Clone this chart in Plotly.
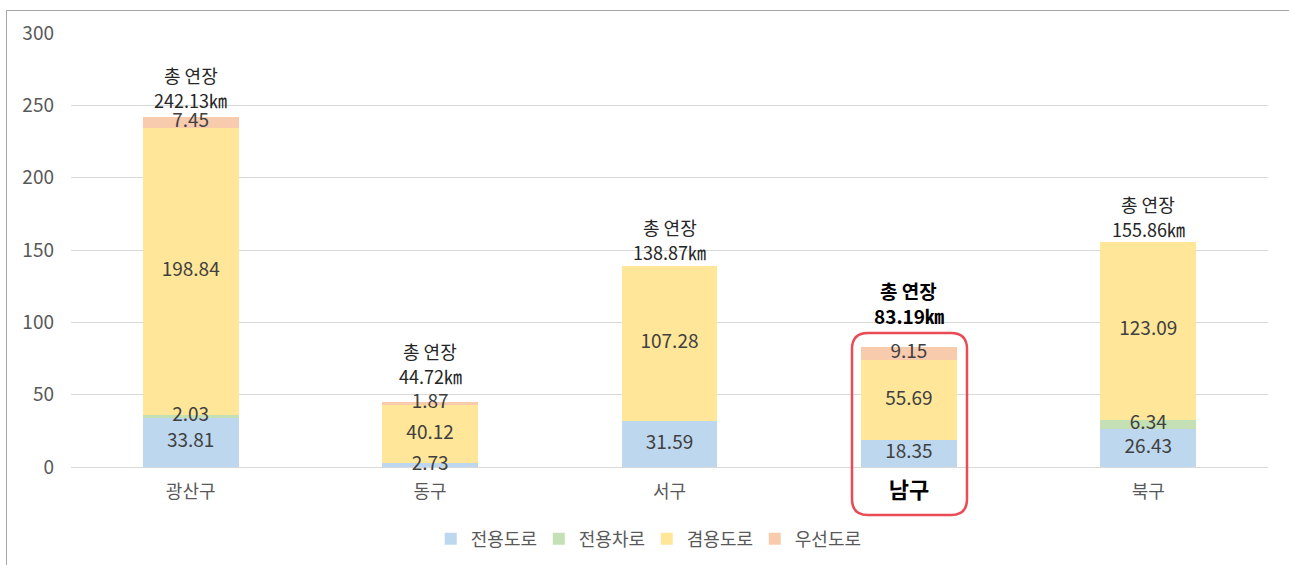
import plotly.graph_objects as go

districts = ["광산구", "동구", "서구", "남구", "북구"]
series_names = ["전용도로", "전용차로", "겸용도로", "우선도로"]
dedicated_road = [33.81, 2.73, 31.59, 18.35, 26.43]
dedicated_lane = [2.03, 0, 0, 0, 6.34]
shared_road = [198.84, 40.12, 107.28, 55.69, 123.09]
priority_road = [7.45, 1.87, 0, 9.15, 0]
totals = [242.13, 44.72, 138.87, 83.19, 155.86]
y_ticks = [0, 50, 100, 150, 200, 250, 300]

series_values = [dedicated_road, dedicated_lane, shared_road, priority_road]
colors = ["#BDD7EE", "#C5E0B4", "#FFE699", "#F8CBAD"]
FONT = "Noto Sans CJK KR"

fig = go.Figure()
for name, vals, col in zip(series_names, series_values, colors):
    fig.add_trace(go.Bar(x=districts, y=vals, name=name, marker=dict(color=col, line=dict(width=0)),
                         hoverinfo="skip"))

# segment value labels at segment centers
lx, ly, lt = [], [], []
for i, d in enumerate(districts):
    base = 0
    for vals in series_values:
        v = vals[i]
        if v > 0:
            lx.append(d)
            ly.append(base + v / 2)
            lt.append(f"{v:.2f}")
        base += v
fig.add_trace(go.Scatter(x=lx, y=ly, text=lt, mode="text", showlegend=False,
                         textfont=dict(family=FONT, size=19, color="#404040"),
                         cliponaxis=False, hoverinfo="skip"))

# total labels (pixel offsets of the two lines above bar top)
line2_shift = {"광산구": 17, "동구": 26, "서구": 14, "남구": 31, "북구": 13}
for d, t in zip(districts, totals):
    bold = d == "남구"
    l1 = "총 연장"
    l2 = f"{t:.2f}㎞"
    if bold:
        l1, l2 = f"<b>{l1}</b>", f"<b>{l2}</b>"
    col = "#000000" if bold else "#262626"
    s2 = line2_shift[d]
    fig.add_annotation(x=d, y=t, text=l2, showarrow=False, yanchor="middle", yshift=s2,
                       font=dict(family=FONT, size=19 if bold else 18, color=col))
    fig.add_annotation(x=d, y=t, text=l1, showarrow=False, yanchor="middle", yshift=s2 + 25,
                       font=dict(family=FONT, size=19 if bold else 18, color=col))

ticktext = [f"<b><span style='font-size:22px;color:#000000'>{d}</span></b>" if d == "남구" else d
            for d in districts]

# red rounded highlight box (paper coords)
def px2x(p):
    return (p - 71) / 1197

def py2y(p):
    return (467 - p) / 434

x0, x1 = px2x(852), px2x(967)
y0, y1 = py2y(515), py2y(333)
rx, ry = 16 / 1197, 16 / 434
path = (f"M {x0+rx},{y1} L {x1-rx},{y1} Q {x1},{y1} {x1},{y1-ry} "
        f"L {x1},{y0+ry} Q {x1},{y0} {x1-rx},{y0} L {x0+rx},{y0} "
        f"Q {x0},{y0} {x0},{y0+ry} L {x0},{y1-ry} Q {x0},{y1} {x0+rx},{y1} Z")
fig.add_shape(type="path", path=path, xref="paper", yref="paper",
              line=dict(color="#EA4B55", width=2.5))

# outer frame lines
fx = px2x(6.5)
fy = py2y(10.5)
fig.add_shape(type="line", xref="paper", yref="paper", x0=fx, x1=fx, y0=fy, y1=py2y(600),
              line=dict(color="#A6A6A6", width=1))
fig.add_shape(type="line", xref="paper", yref="paper", x0=fx, x1=px2x(1300), y0=fy, y1=fy,
              line=dict(color="#A6A6A6", width=1))

fig.update_layout(
    width=1289, height=565,
    margin=dict(l=71, r=21, t=33, b=98, autoexpand=False),
    barmode="stack", bargap=0.6,
    plot_bgcolor="white", paper_bgcolor="white",
    font=dict(family=FONT, size=17, color="#595959"),
    legend=dict(orientation="h", x=0.481, xanchor="center", y=py2y(539), yanchor="middle",
                font=dict(family=FONT, size=18, color="#595959"),
                entrywidth=63, entrywidthmode="pixels",
                traceorder="normal"),
    showlegend=True,
)
fig.update_xaxes(tickmode="array", tickvals=districts, ticktext=ticktext,
                 tickfont=dict(family=FONT, size=18, color="#595959"),
                 showgrid=False, showline=False, zeroline=False, ticks="", ticklen=0,
                 ticklabelstandoff=12, automargin=False)
fig.update_yaxes(range=[0, 300], tickvals=y_ticks, showgrid=True, gridcolor="#D9D9D9", gridwidth=1,
                 zeroline=True, zerolinecolor="#D9D9D9", zerolinewidth=1,
                 tickfont=dict(family=FONT, size=19, color="#595959"),
                 ticklabelstandoff=16, showline=False, automargin=False)

fig.write_html("out.html", config={"displayModeBar": False},
               post_script="document.body.style.margin='0';document.body.style.overflow='hidden';")
